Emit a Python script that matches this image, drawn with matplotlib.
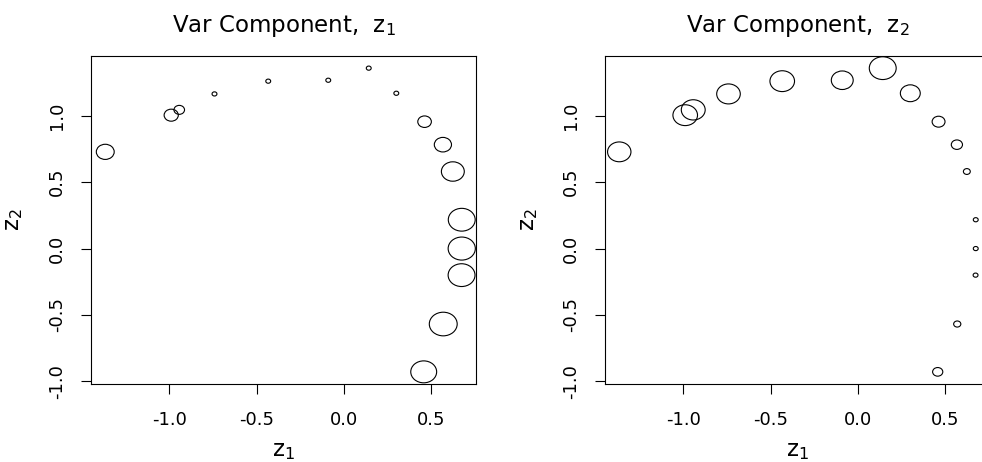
import numpy as np
import matplotlib.pyplot as plt
from matplotlib.path import Path
from matplotlib.transforms import Affine2D

plt.rcParams.update({'font.family': 'DejaVu Sans', 'font.size': 13,
                     'axes.linewidth': 0.8})

# point locations
z1 = [-1.367, -0.989, -0.943, -0.741, -0.433, -0.089, 0.143, 0.301, 0.463,
      0.568, 0.625, 0.676, 0.676, 0.675, 0.570, 0.458]
z2 = [0.728, 1.004, 1.044, 1.164, 1.260, 1.267, 1.358, 1.169, 0.955,
      0.782, 0.580, 0.217, 0.000, -0.200, -0.568, -0.928]

# variance components, drawn as symbol size
var_z1 = [0.190, 0.153, 0.117, 0.060, 0.060, 0.060, 0.060, 0.060, 0.147,
          0.183, 0.240, 0.280, 0.283, 0.280, 0.290, 0.270]
var_z2 = [0.245, 0.257, 0.250, 0.247, 0.257, 0.230, 0.280, 0.210, 0.140,
          0.123, 0.080, 0.060, 0.060, 0.060, 0.083, 0.113]

titles = [r'Var Component,  $\mathregular{z_1}$',
          r'Var Component,  $\mathregular{z_2}$']
xticks = [-1.0, -0.5, 0.0, 0.5]
yticks = [-1.0, -0.5, 0.0, 0.5, 1.0]


def rlim(v):
    # R style range: data range padded by 4% each side
    lo, hi = min(v), max(v)
    d = (hi - lo) * 0.04
    return lo - d, hi + d


# slightly squashed circle as the plotting symbol
oval = Affine2D().scale(1.0, 1 / 1.18).transform_path(Path.unit_circle())

fig = plt.figure(figsize=(9.82, 4.62), dpi=100)
lefts = [91 / 982, 605 / 982]

for left, sizes, title in zip(lefts, [var_z1, var_z2], titles):
    ax = fig.add_axes([left, 78 / 462, 385 / 982, 328 / 462])
    s = (72 * np.array(sizes) - 0.8) ** 2
    ax.scatter(z1, z2, s=s, marker=oval, facecolors='none',
               edgecolors='black', linewidths=0.8)
    ax.set_xlim(rlim(z1))
    ax.set_ylim(rlim(z2))

    ax.set_xticks(xticks)
    ax.set_xticklabels([f'{t:.1f}' for t in xticks])
    ax.set_yticks(yticks)
    ax.set_yticklabels([f'{t:.1f}' for t in yticks], rotation=90, va='center')
    ax.tick_params(direction='out', length=7.2, width=0.8, pad=12.5,
                   labelsize=13)
    ax.tick_params(axis='y', pad=11)

    ax.set_title(title, fontsize=16.5, pad=17)
    ax.set_xlabel(r'$\mathregular{z_1}$', fontsize=16.5)
    ax.set_ylabel(r'$\mathregular{z_2}$', fontsize=16.5, va='center')
    ax.xaxis.set_label_coords(0.5, -0.168)
    ax.yaxis.set_label_coords(-0.2, 0.5)

fig.savefig('out.png', dpi=100)
